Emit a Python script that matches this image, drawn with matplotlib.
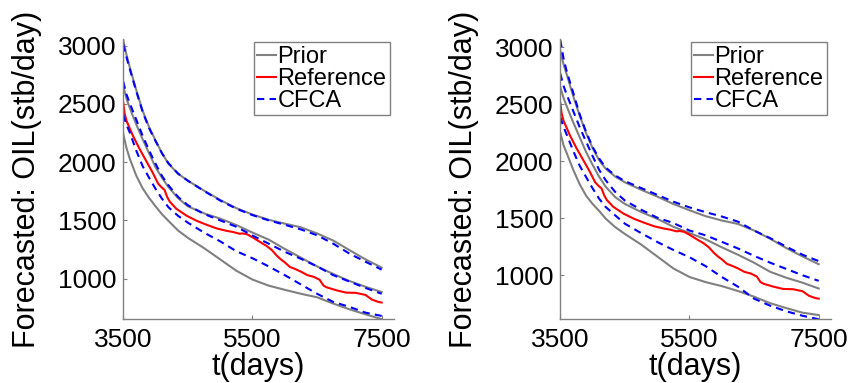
import numpy as np
import matplotlib.pyplot as plt

plt.rcParams['font.family'] = ['Liberation Sans', 'DejaVu Sans']

# time grid (days)
t = [3500, 3550, 3600, 3700, 3800, 3900, 4000, 4100, 4200, 4350, 4500, 4750,
     5000, 5250, 5500, 5750, 6000, 6250, 6500, 6750, 7000, 7250, 7500]

# left panel
prior_hi_L = [3045, 2920, 2815, 2620, 2440, 2300, 2185, 2075, 1985, 1900, 1840, 1755,
              1675, 1605, 1550, 1505, 1472, 1440, 1388, 1327, 1245, 1165, 1095]
prior_mid_L = [2650, 2545, 2465, 2325, 2195, 2075, 1955, 1865, 1785, 1690, 1620, 1560,
               1515, 1460, 1395, 1335, 1255, 1180, 1105, 1040, 980, 930, 885]
prior_lo_L = [2240, 2120, 2030, 1885, 1775, 1692, 1620, 1552, 1495, 1412, 1350, 1262,
              1165, 1068, 992, 940, 904, 870, 840, 786, 737, 694, 652]
cfca_hi_L = [3010, 2900, 2800, 2610, 2430, 2290, 2180, 2075, 1990, 1900, 1840, 1752,
             1670, 1600, 1545, 1500, 1462, 1422, 1372, 1300, 1215, 1145, 1077]
cfca_mid_L = [2690, 2580, 2505, 2365, 2225, 2100, 1985, 1880, 1800, 1700, 1630, 1555,
              1500, 1445, 1370, 1300, 1230, 1170, 1105, 1030, 975, 920, 870]
cfca_lo_L = [2405, 2320, 2255, 2100, 1965, 1865, 1770, 1685, 1612, 1538, 1480, 1395,
             1320, 1235, 1175, 1105, 1030, 950, 870, 800, 758, 708, 680]

# right panel
prior_hi_R = [2965, 2850, 2760, 2570, 2400, 2245, 2115, 2010, 1935, 1865, 1815, 1750,
              1690, 1625, 1570, 1518, 1480, 1450, 1392, 1320, 1238, 1165, 1097]
prior_mid_R = [2650, 2555, 2480, 2340, 2210, 2080, 1968, 1865, 1778, 1685, 1625, 1555,
               1495, 1425, 1370, 1315, 1245, 1180, 1110, 1030, 978, 935, 884]
prior_lo_R = [2250, 2140, 2070, 1925, 1798, 1697, 1625, 1565, 1498, 1422, 1362, 1270,
              1165, 1060, 985, 940, 905, 862, 812, 755, 712, 672, 651]
cfca_hi_R = [3062, 2900, 2785, 2600, 2410, 2255, 2125, 2025, 1945, 1875, 1825, 1765,
             1705, 1645, 1595, 1553, 1515, 1470, 1392, 1325, 1250, 1180, 1124]
cfca_mid_R = [2768, 2660, 2582, 2440, 2298, 2170, 2045, 1925, 1835, 1730, 1655, 1575,
              1505, 1458, 1392, 1350, 1293, 1235, 1170, 1110, 1055, 1000, 951]
cfca_lo_R = [2385, 2300, 2232, 2090, 1960, 1860, 1762, 1672, 1600, 1525, 1452, 1370,
             1292, 1222, 1158, 1080, 985, 900, 795, 733, 684, 645, 615]

# reference (same in both panels)
t_ref = [3500, 3520, 3550, 3600, 3650, 3750, 3850, 3950, 4040, 4090, 4140, 4180,
         4220, 4320, 4480, 4640, 4800, 4950, 5100, 5200, 5300, 5350, 5420, 5500,
         5600, 5720, 5800, 5880, 5950, 6000, 6080, 6150, 6250, 6350, 6450, 6540,
         6600, 6650, 6800, 6950, 7100, 7150, 7250, 7350, 7450, 7500]
ref = [2510, 2420, 2355, 2290, 2225, 2115, 2015, 1915, 1815, 1785, 1760, 1700,
       1660, 1600, 1540, 1495, 1460, 1430, 1410, 1400, 1385, 1388, 1380, 1355,
       1320, 1280, 1245, 1195, 1160, 1140, 1100, 1085, 1060, 1030, 1015, 990,
       940, 925, 900, 880, 878, 872, 860, 820, 800, 795]

panels = [
    (prior_hi_L, prior_mid_L, prior_lo_L, cfca_hi_L, cfca_mid_L, cfca_lo_L, (650, 3052)),
    (prior_hi_R, prior_mid_R, prior_lo_R, cfca_hi_R, cfca_mid_R, cfca_lo_R, (613, 3067)),
]
lefts = [0.143, 0.650]

fig = plt.figure(figsize=(8.62, 3.83), dpi=100)
gray = '#808080'

for left, (ph, pm, pl, ch, cm, cl, ylim) in zip(lefts, panels):
    ax = fig.add_axes([left, 0.166, 0.314, 0.731])
    for i, p in enumerate([ph, pm, pl]):
        ax.plot(t, p, color=gray, lw=1.5, label='Prior' if i == 0 else None)
    ax.plot(t_ref, ref, color='red', lw=1.5, label='Reference')
    for i, c in enumerate([ch, cm, cl]):
        ax.plot(t, c, color='blue', lw=1.5, ls=(0, (3.5, 2.5)),
                label='CFCA' if i == 0 else None)

    ax.set_xlim(3500, 7690)
    ax.set_ylim(*ylim)
    ax.set_xticks([3500, 5500, 7500])
    ax.set_yticks([1000, 1500, 2000, 2500, 3000])
    ax.spines['top'].set_visible(False)
    ax.spines['right'].set_visible(False)
    for s in ['left', 'bottom']:
        ax.spines[s].set_color(gray)
        ax.spines[s].set_linewidth(1.0)
    ax.tick_params(direction='in', length=3, color=gray, labelsize=19, pad=5)
    ax.tick_params(axis='x', pad=6)
    ax.set_xlabel('t(days)', fontsize=22, labelpad=0)
    ax.set_ylabel('Forecasted: OIL(stb/day)', fontsize=22, labelpad=11)

    leg = ax.legend(loc='upper right', bbox_to_anchor=(0.985, 0.99),
                    fontsize=17, handlelength=0.8, handletextpad=0.05,
                    labelspacing=0.0, borderpad=0.15, borderaxespad=0.0,
                    fancybox=False, framealpha=1)
    leg.get_frame().set_edgecolor(gray)
    leg.get_frame().set_linewidth(1.0)

fig.savefig('out.png', dpi=100)
